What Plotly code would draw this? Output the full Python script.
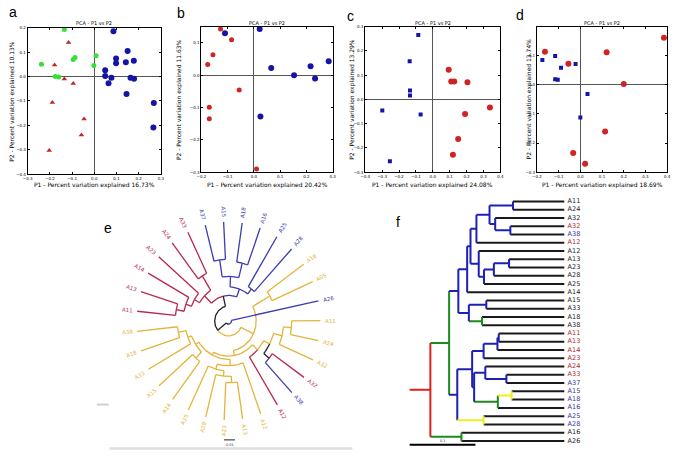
import numpy as np
import plotly.graph_objects as go

W, H = 686, 458

# ---------------- PCA panels (a-d) ----------------
a_blue_x = [0.086, 0.150, 0.098, 0.098, 0.142, 0.178, 0.049, 0.049, 0.077, 0.064, 0.163, 0.179, 0.145, 0.268, 0.266]
a_blue_y = [0.186, 0.105, 0.074, 0.054, 0.058, 0.065, 0.026, 0.002, -0.005, -0.028, -0.005, -0.009, -0.072, -0.109, -0.209]
a_green_x = [-0.135, -0.238, -0.095, -0.087, 0.008, -0.002, -0.176, -0.160]
a_green_y = [0.193, 0.050, 0.070, 0.078, 0.085, 0.045, 0.000, -0.002]
a_red_x = [-0.116, -0.179, -0.135, -0.095, -0.189, -0.046, -0.058, -0.203]
a_red_y = [0.139, 0.047, -0.010, -0.029, -0.106, -0.174, -0.240, -0.303]

b_blue_x = [-0.110, 0.022, 0.066, 0.153, 0.216, 0.233, 0.285, 0.025]
b_blue_y = [0.130, 0.143, 0.022, 0.000, 0.028, -0.010, 0.043, -0.128]
b_red_x = [-0.127, -0.085, -0.156, -0.176, -0.056, -0.170, -0.170, 0.010]
b_red_y = [0.143, 0.110, 0.063, 0.033, -0.046, -0.099, -0.135, -0.290]

c_blue_x = [-0.086, -0.137, -0.135, -0.135, -0.299, -0.072, -0.254]
c_blue_y = [0.266, 0.158, 0.037, 0.016, -0.046, -0.062, -0.255]
c_red_x = [0.094, 0.109, 0.127, 0.205, 0.338, 0.191, 0.150, 0.119]
c_red_y = [0.122, 0.074, 0.074, 0.071, -0.033, -0.060, -0.163, -0.228]

d_blue_x = [-0.175, -0.116, -0.089, -0.022, -0.116, -0.104, 0.033, 0.000]
d_blue_y = [0.086, 0.099, 0.059, 0.072, 0.019, 0.018, -0.031, -0.112]
d_red_x = [-0.163, -0.055, 0.121, 0.200, 0.385, 0.114, -0.033, 0.022]
d_red_y = [0.114, 0.073, 0.112, 0.003, 0.162, -0.160, -0.234, -0.271]

p1_var = ["16.73%", "20.42%", "24.08%", "18.69%"]
p2_var = ["10.13%", "11.63%", "13.29%", "13.74%"]

# ---------------- circular tree (e) ----------------
e_labels = ["A16", "A05", "A26", "A11", "A24", "A32", "A32", "A38", "A12", "A12", "A13", "A23", "A28",
            "A25", "A14", "A15", "A33", "A18", "A38", "A11", "A13", "A14", "A23", "A24", "A33",
            "A37", "A15", "A18", "A16", "A25", "A28"]
e_groups = ["y", "y", "b", "y", "y", "y", "r", "b", "r", "y", "y", "y", "y",
            "y", "y", "y", "y", "y", "y", "r", "r", "r", "r", "r", "r",
            "b", "b", "b", "b", "b", "b"]
# [radius, colour, children...]; ints are leaves
e_tree = [3, "k",
          2,
          [14, "k",
           [28, "y",
            [48, "y", 0, 1],
            [33, "y",
             [40, "y",
              [47, "y", [56, "y", [64, "y", 3, 4], 5], [54, "k", 6, 7]],
              8],
             [36, "y",
              [42, "y", 9, [47, "y", [52, "y", [58, "y", 10, 11], 12], 13]],
              [40, "y", [48, "y", 14, 15], [44, "y", 16, [52, "y", 17, 18]]]]]],
           [24, "k",
            [34, "r", [40, "r", [46, "r", [54, "r", 19, 20], 21], 22], [50, "r", 23, 24]],
            [32, "b", [42, "b", [58, "b", 25, 26], [56, "b", 27, 28]], [38, "b", 29, 30]]]]]

# ---------------- dendrogram (f) ----------------
f_labels = ["A11", "A24", "A32", "A32", "A38", "A12", "A12", "A13", "A23", "A28", "A25", "A14", "A15",
            "A33", "A18", "A38", "A11", "A13", "A14", "A23", "A24", "A33", "A37", "A15", "A18",
            "A16", "A25", "A28", "A16", "A26"]
f_groups = ["k", "k", "k", "r", "b", "r", "k", "k", "k", "k", "k", "k", "k",
            "k", "k", "k", "r", "r", "r", "r", "r", "r", "b", "b", "b",
            "b", "b", "b", "k", "k"]
# [depth, colour, children...]
f_tree = [0.0315, "r",
          [0.060, "g",
           [0.074, "b",
            [0.0874, "b",
             [0.0925, "b",
              [0.1015, "b",
               [0.1214, "b",
                [0.157, "b", 0, 1],
                [0.130, "b", 2, [0.153, "b", 3, 4]]],
               5],
              [0.105, "b", 6,
               [0.113, "b", [0.128, "b", [0.151, "b", 7, 8], 9], 10]]],
             11],
            [0.090, "b", [0.1165, "b", 12, 13], [0.110, "g", 14, 15]]],
           [0.0724, "b",
            [0.095, "b",
             [0.1124, "b", [0.1334, "b", [0.1354, "b", 16, 17], 18], 19],
             [0.098, "b",
              [0.115, "b", 20, [0.147, "b", 21, 22]],
              [0.134, "g", [0.155, "y", 23, 24], 25]]],
            [0.1124, "y", 26, 27]]],
          [0.0787, "g", 28, 29]]
F_LEAF = 0.235

E_COL = {"y": "#e2b43c", "r": "#b8284e", "b": "#3c3cae", "k": "#222222"}
F_COL = {"y": "#f2ee1c", "r": "#e0201c", "b": "#1c20b4", "g": "#1e8a1e", "k": "#1a1a1a"}
F_LAB = {"k": "#1a1a1a", "r": "#b02828", "b": "#3434a0"}

BLUE = "#1414a8"
RED = "#d02424"
GREEN = "#3ade3a"


def dx(x0, x1):
    return [x0 / W, x1 / W]


def dy(y0, y1):
    return [1 - y1 / H, 1 - y0 / H]


def paper_text(text, px, py, size, family="DejaVu Sans", color="black", angle=0):
    return dict(text=text, x=px / W, y=1 - py / H, xref="paper", yref="paper", showarrow=False,
                xanchor="center", yanchor="middle", textangle=angle,
                font=dict(size=size, family=family, color=color))


fig = go.Figure()
annots = []

panels = [
    dict(dom=(23, 158, 25, 173), xr=[-0.3, 0.3], yr=[-0.4, 0.2],
         xt=[-0.3, -0.2, -0.1, 0, 0.1, 0.2, 0.3], yt=[-0.4, -0.3, -0.2, -0.1, 0, 0.1, 0.2],
         ytx=7, lab="a", labxy=(8, 9)),
    dict(dom=(199, 332, 24, 171), xr=[-0.2, 0.3], yr=[-0.3, 0.15],
         xt=[-0.2, -0.1, 0, 0.1, 0.2, 0.3], yt=[-0.3, -0.2, -0.1, 0, 0.1],
         ytx=177, lab="b", labxy=(178, 10)),
    dict(dom=(365, 502, 24, 171), xr=[-0.4, 0.4], yr=[-0.3, 0.3],
         xt=[-0.4, -0.3, -0.2, -0.1, 0, 0.1, 0.2, 0.3, 0.4], yt=[-0.3, -0.2, -0.1, 0, 0.1, 0.2, 0.3],
         ytx=352, lab="c", labxy=(350, 13)),
    dict(dom=(539, 671, 24, 171), xr=[-0.2, 0.4], yr=[-0.3, 0.2],
         xt=[-0.2, -0.1, 0, 0.1, 0.2, 0.3, 0.4], yt=[-0.3, -0.2, -0.1, 0, 0.1],
         ytx=531, lab="d", labxy=(522, 12)),
]

series = [
    [(a_blue_x, a_blue_y, BLUE, "circle", 6), (a_green_x, a_green_y, GREEN, "circle", 5),
     (a_red_x, a_red_y, "#c0282c", "triangle-up", 5)],
    [(b_blue_x, b_blue_y, BLUE, "circle", 6), (b_red_x, b_red_y, RED, "circle", 5)],
    [(c_blue_x, c_blue_y, BLUE, "square", 4), (c_red_x, c_red_y, RED, "circle", 6)],
    [(d_blue_x, d_blue_y, BLUE, "square", 4), (d_red_x, d_red_y, RED, "circle", 6)],
]

layout_axes = {}
for i, (p, ser) in enumerate(zip(panels, series)):
    n = i + 1
    xa, ya = ("x" if n == 1 else f"x{n}"), ("y" if n == 1 else f"y{n}")
    x0, x1, y0, y1 = p["dom"]
    common = dict(showgrid=False, showline=True, linecolor="black", linewidth=1, mirror="allticks",
                  ticks="inside", ticklen=2, tickwidth=0.6, tickcolor="black",
                  tickfont=dict(size=4, color="black", family="DejaVu Sans"),
                  zeroline=True, zerolinecolor="#555555", zerolinewidth=1, tickformat=".1f")
    layout_axes["xaxis" if n == 1 else f"xaxis{n}"] = dict(
        domain=dx(x0, x1), range=p["xr"], tickvals=p["xt"], anchor=ya, **common)
    layout_axes["yaxis" if n == 1 else f"yaxis{n}"] = dict(
        domain=dy(y0, y1), range=p["yr"], tickvals=p["yt"], anchor=xa, **common)
    for xs, ys, col, sym, sz in ser:
        fig.add_trace(go.Scatter(x=xs, y=ys, mode="markers", xaxis=xa, yaxis=ya,
                                 marker=dict(color=col, symbol=sym, size=sz, line=dict(width=0)),
                                 showlegend=False, hoverinfo="skip"))
    cx = (x0 + x1) / 2
    annots.append(paper_text("PCA - P1 vs P2", cx, 20.5, 5))
    annots.append(paper_text(f"P1 - Percent variation explained {p1_var[i]}", cx, 184, 6))
    annots.append(paper_text(f"P2 - Percent variation explained {p2_var[i]}", p["ytx"], (y0 + y1) / 2, 6,
                             angle=-90))
    lx, ly = p["labxy"]
    annots.append(paper_text(p["lab"], lx, ly, 14, family="Liberation Sans"))

# ---------------- circular tree ----------------
E_CX, E_CY, E_SY = 226.5, 321.5, 1.077
E_LEAF_R, E_LAB_R = 93, 103
step = 360 / len(e_labels)
e_angle = [35.0 - step * k for k in range(len(e_labels))]
e_segs = {}


def e_add(c, xs, ys):
    X, Y = e_segs.setdefault(c, ([], []))
    X.extend(list(xs) + [None])
    Y.extend(list(ys) + [None])


def e_draw(node):
    if isinstance(node, int):
        return e_angle[node], E_LEAF_R, e_groups[node]
    r, col, *kids = node
    info = [e_draw(k) for k in kids]
    a0 = (info[0][0] + info[-1][0]) / 2
    for ka, kr, kc in info:
        t = np.radians(np.linspace(a0, ka, max(2, int(abs(ka - a0) / 2) + 2)))
        e_add(kc, r * np.cos(t), r * np.sin(t))
        tk = np.radians(ka)
        e_add(kc, [r * np.cos(tk), kr * np.cos(tk)], [r * np.sin(tk), kr * np.sin(tk)])
    return a0, r, col


e_draw(e_tree)
for c, (X, Y) in e_segs.items():
    fig.add_trace(go.Scatter(x=X, y=Y, mode="lines", xaxis="x5", yaxis="y5",
                             line=dict(color=E_COL[c], width=1.3), showlegend=False, hoverinfo="skip"))

ex0, ex1, ey0, ey1 = 100, 360, 200, 455
layout_axes["xaxis5"] = dict(domain=dx(ex0, ex1), range=[ex0 - E_CX, ex1 - E_CX], visible=False, anchor="y5")
layout_axes["yaxis5"] = dict(domain=dy(ey0, ey1), range=[(E_CY - ey1) / E_SY, (E_CY - ey0) / E_SY],
                             visible=False, anchor="x5")

for k, (lab, g) in enumerate(zip(e_labels, e_groups)):
    t = np.radians(e_angle[k])
    scr = np.degrees(np.arctan2(E_SY * np.sin(t), np.cos(t)))
    scr = (scr + 180) % 360 - 180
    ang = -scr if -90 <= scr <= 90 else 180 - scr
    ang = (ang + 180) % 360 - 180
    annots.append(dict(text=lab, x=E_LAB_R * np.cos(t), y=E_LAB_R * np.sin(t), xref="x5", yref="y5",
                       showarrow=False, textangle=ang, xanchor="center", yanchor="middle",
                       font=dict(size=5.5, family="DejaVu Sans", color=E_COL[g])))

annots.append(paper_text("e", 104, 227, 14, family="Liberation Sans"))
annots.append(paper_text("0.01", 227.5, 447, 3.5, color="#333"))

shapes = [
    dict(type="line", xref="paper", yref="paper", x0=222 / W, x1=233 / W, y0=1 - 441.7 / H, y1=1 - 441.7 / H,
         line=dict(color="#222", width=1)),
    dict(type="line", xref="paper", yref="paper", x0=106 / W, x1=352 / W, y0=1 - 450.5 / H, y1=1 - 450.5 / H,
         line=dict(color="#dedede", width=2.5)),
    dict(type="line", xref="paper", yref="paper", x0=93 / W, x1=105 / W, y0=1 - 406 / H, y1=1 - 406 / H,
         line=dict(color="#d0d0d0", width=2)),
]

# ---------------- dendrogram ----------------
f_segs = {}


def f_add(c, xs, ys):
    X, Y = f_segs.setdefault(c, ([], []))
    X.extend(list(xs) + [None])
    Y.extend(list(ys) + [None])


def f_draw(node):
    if isinstance(node, int):
        return node, F_LEAF, "k"
    depth, col, *kids = node
    info = [f_draw(k) for k in kids]
    for ky, kd, kc in info:
        f_add(kc, [depth, kd], [ky, ky])
    f_add(col, [depth, depth], [info[0][0], info[-1][0]])
    return (info[0][0] + info[-1][0]) / 2, depth, col


root_y, root_d, root_c = f_draw(f_tree)
f_add(root_c, [0, root_d], [root_y, root_y])
for c in ["k", "g", "b", "y", "r"]:
    if c in f_segs:
        X, Y = f_segs[c]
        fig.add_trace(go.Scatter(x=X, y=Y, mode="lines", xaxis="x6", yaxis="y6",
                                 line=dict(color=F_COL[c], width=2), showlegend=False, hoverinfo="skip"))

leaf_idx = list(range(len(f_labels)))
fig.add_trace(go.Scatter(x=[F_LEAF + 0.005] * len(f_labels), y=leaf_idx, mode="text", text=f_labels,
                         textposition="middle right", xaxis="x6", yaxis="y6",
                         textfont=dict(size=6.5, family="DejaVu Sans", color=[F_LAB[g] for g in f_groups]),
                         showlegend=False, hoverinfo="skip"))
# scale bar 0.1
fig.add_trace(go.Scatter(x=[0, 0.1], y=[29.47, 29.47], mode="lines", xaxis="x6", yaxis="y6",
                         line=dict(color="black", width=2), showlegend=False, hoverinfo="skip"))
annots.append(dict(text="0.1", x=0.05, y=29.0, xref="x6", yref="y6", showarrow=False,
                   xanchor="center", yanchor="middle",
                   font=dict(size=3.5, family="DejaVu Sans", color="#333")))

F_PX0, F_PPU = 410, 667
fx0, fx1, fy0, fy1 = 405, 620, 195, 452
layout_axes["xaxis6"] = dict(domain=dx(fx0, fx1), range=[(fx0 - F_PX0) / F_PPU, (fx1 - F_PX0) / F_PPU],
                             visible=False, anchor="y6")
layout_axes["yaxis6"] = dict(domain=dy(fy0, fy1), range=[(fy1 - 200.6) / 8.35, (fy0 - 200.6) / 8.35],
                             visible=False, anchor="x6")
annots.append(paper_text("f", 398, 221, 14, family="Liberation Sans"))

fig.update_layout(width=W, height=H, margin=dict(l=0, r=0, t=0, b=0), paper_bgcolor="white",
                  plot_bgcolor="white", showlegend=False, annotations=annots, shapes=shapes, **layout_axes)

# drop the default 8px page margin so the figure sits at the window's corner
fig.write_html("out.html", config={"displayModeBar": False},
               post_script="document.body.style.margin='0px';")
